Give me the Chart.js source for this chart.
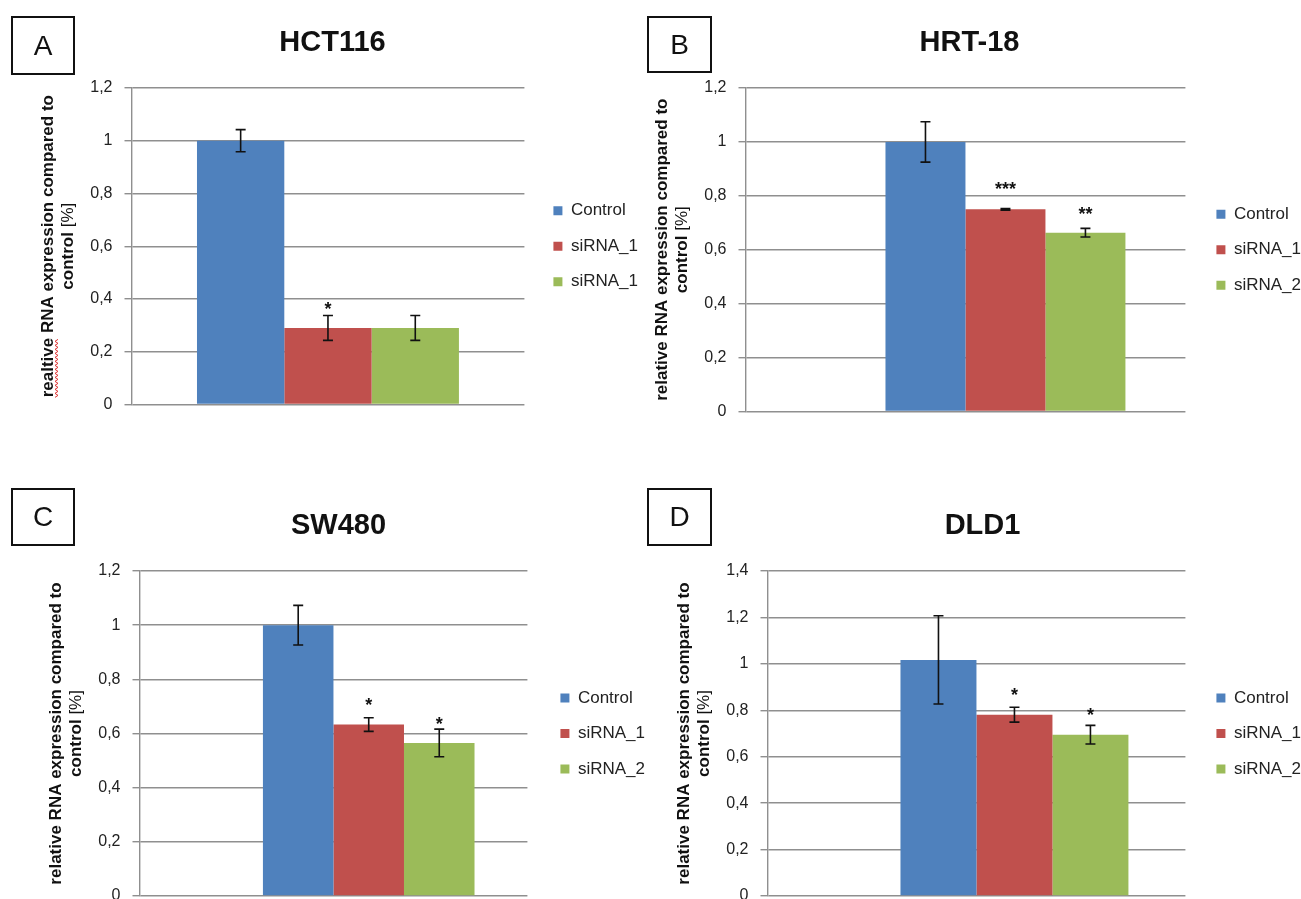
<!DOCTYPE html>
<html>
<head>
<meta charset="utf-8">
<script src="https://cdn.jsdelivr.net/npm/chart.js@4/dist/chart.umd.min.js"></script>
<style>
  html, body { margin: 0; padding: 0; background: #fff; overflow: hidden; width: 1301px; height: 899px; }
  .panel { position: absolute; }
  .letter {
    position: absolute; box-sizing: border-box; border: 2px solid #111;
    display: flex; align-items: center; justify-content: center;
    font: 28px "Liberation Sans", Arial, sans-serif; color: #111;
  }
</style>
</head>
<body>
<div class="panel" style="left:16.5px;top:0;width:631px;height:426px"><canvas id="chartA"></canvas></div>
<div class="panel" style="left:627.5px;top:0;width:683px;height:433px"><canvas id="chartB"></canvas></div>
<div class="panel" style="left:21.5px;top:483px;width:633px;height:435px"><canvas id="chartC"></canvas></div>
<div class="panel" style="left:653.5px;top:483px;width:657px;height:435px"><canvas id="chartD"></canvas></div>
<div class="letter" style="left:11px;top:16px;width:64px;height:59px">A</div>
<div class="letter" style="left:647px;top:16px;width:65px;height:57px">B</div>
<div class="letter" style="left:11px;top:488px;width:64px;height:58px">C</div>
<div class="letter" style="left:647px;top:488px;width:65px;height:58px">D</div>
<script>
const FONT = '"Liberation Sans", Arial, sans-serif';
const colors = ["#4F81BD", "#C0504D", "#9BBB59"];

// one category per chart, three treatments
const seriesHCT = ["Control", "siRNA_1", "siRNA_1"];
const seriesOther = ["Control", "siRNA_1", "siRNA_2"];

const hctMean = [1.0, 0.29, 0.29];
const hctErr = [0.042, 0.047, 0.047];
const hctSig = ["", "*", ""];
const hctSigY = [null, 0.377, null];

const hrtMean = [1.0, 0.75, 0.663];
const hrtErr = [0.075, 0.003, 0.016];
const hrtSig = ["", "***", "**"];
const hrtSigY = [null, 0.842, 0.75];

const swMean = [1.0, 0.633, 0.565];
const swErr = [0.073, 0.025, 0.051];
const swSig = ["", "*", "*"];
const swSigY = [null, 0.72, 0.652];

const dldMean = [1.017, 0.781, 0.695];
const dldErr = [0.19, 0.032, 0.04];
const dldSig = ["", "*", "*"];
const dldSigY = [null, 0.883, 0.797];

const yTitleHCT = ["realtive RNA expression compared to", "control", "[%]"];
const yTitleOther = ["relative RNA expression compared to", "control", "[%]"];

const fmt = v => String(+v.toFixed(1)).replace(".", ",");

// error bars + significance stars
const errorBars = {
  id: "errorBars",
  afterDatasetsDraw(chart) {
    const { ctx, scales: { y } } = chart;
    chart.data.datasets.forEach((ds, i) => {
      if (ds.err == null) return;
      const bar = chart.getDatasetMeta(i).data[0];
      const v = ds.data[0], e = ds.err;
      const top = y.getPixelForValue(v + e), bot = y.getPixelForValue(v - e);
      ctx.save();
      ctx.strokeStyle = "#111";
      ctx.lineWidth = 1.6;
      ctx.beginPath();
      ctx.moveTo(bar.x, top); ctx.lineTo(bar.x, bot);
      ctx.moveTo(bar.x - 5, top); ctx.lineTo(bar.x + 5, top);
      ctx.moveTo(bar.x - 5, bot); ctx.lineTo(bar.x + 5, bot);
      ctx.stroke();
      if (ds.sig) {
        const size = 18;
        ctx.font = `bold ${size}px ${FONT}`;
        ctx.fillStyle = "#111";
        ctx.textAlign = "center";
        ctx.textBaseline = "alphabetic";
        ctx.fillText(ds.sig, bar.x, y.getPixelForValue(ds.sigY) + size * 0.58);
      }
      ctx.restore();
    });
  }
};

// rotated two-line y title, bold with a normal "[%]"
const yTitle = {
  id: "yTitle",
  afterDraw(chart, args, o) {
    const { ctx, chartArea: a } = chart;
    const cy = (a.top + a.bottom) / 2;
    const bold = `bold 17px ${FONT}`, norm = `17px ${FONT}`;
    ctx.save();
    ctx.fillStyle = "#111";
    ctx.textBaseline = "middle";
    // line 1
    ctx.save();
    ctx.translate(a.left - 83, cy);
    ctx.rotate(-Math.PI / 2);
    ctx.font = bold;
    const w1 = ctx.measureText(o.text[0]).width;
    ctx.textAlign = "left";
    ctx.fillText(o.text[0], -w1 / 2, 0);
    if (o.squiggle) {
      const ww = ctx.measureText(o.text[0].split(" ")[0]).width;
      ctx.strokeStyle = "#e03030";
      ctx.lineWidth = 1;
      ctx.beginPath();
      for (let x = 0, k = 0; x <= ww; x += 2, k++) {
        const px = -w1 / 2 + x, py = 8 + (k % 2 ? 1.5 : -1.5);
        if (k === 0) ctx.moveTo(px, py); else ctx.lineTo(px, py);
      }
      ctx.stroke();
    }
    ctx.restore();
    // line 2
    ctx.save();
    ctx.translate(a.left - 63, cy);
    ctx.rotate(-Math.PI / 2);
    ctx.textAlign = "left";
    ctx.font = bold;
    const p1 = o.text[1] + " ";
    const wa = ctx.measureText(p1).width;
    ctx.font = norm;
    const wb = ctx.measureText(o.text[2]).width;
    const x0 = -(wa + wb) / 2;
    ctx.font = bold;
    ctx.fillText(p1, x0, 0);
    ctx.font = norm;
    ctx.fillText(o.text[2], x0 + wa, 0);
    ctx.restore();
    ctx.restore();
  }
};

function makeChart(id, p) {
  const datasets = [];
  for (let i = 0; i < p.lead; i++) datasets.push({ label: "", data: [null] });
  p.names.forEach((n, i) => datasets.push({
    label: n,
    data: [p.mean[i]],
    err: p.err[i],
    sig: p.sig[i],
    sigY: p.sigY[i],
    backgroundColor: colors[i],
    borderWidth: 0,
  }));
  const n = datasets.length;
  return new Chart(document.getElementById(id), {
    type: "bar",
    data: { labels: [""], datasets },
    options: {
      responsive: true,
      maintainAspectRatio: false,
      animation: false,
      datasets: { bar: { categoryPercentage: n / (n + 1.5), barPercentage: 1 } },
      layout: { padding: { top: 0, left: 0, right: 0, bottom: p.bottom } },
      plugins: {
        tooltip: { enabled: false },
        title: {
          display: true, text: p.title, color: "#111",
          font: { family: FONT, size: 29, weight: "bold", lineHeight: 1.2 },
          padding: { top: 25.6, bottom: 27.6 },
        },
        legend: {
          position: "right",
          fullSize: false,
          maxWidth: 200,
          labels: {
            boxWidth: 9, boxHeight: 9, padding: 18.5, color: "#222",
            font: { family: FONT, size: 17 },
            filter: it => it.text !== "",
          },
        },
        yTitle: { text: p.ytitle, squiggle: p.squiggle },
      },
      scales: {
        x: { display: false },
        y: {
          min: 0, max: p.yMax,
          ticks: { stepSize: 0.2, padding: 12, color: "#222", font: { family: FONT, size: 16 }, callback: fmt },
          grid: { color: "#8f8f8f", lineWidth: 1.4, tickLength: 7 },
          border: { color: "#8f8f8f", width: 1.4 },
          afterFit: s => { s.width = p.yW; },
        },
        gap: {
          type: "linear", axis: "y", position: "right", display: true,
          grid: { display: false }, ticks: { display: false }, border: { display: false },
          afterFit: s => { s.width = p.gap; },
        },
      },
    },
    plugins: [errorBars, yTitle],
  });
}

makeChart("chartA", { title: "HCT116", names: seriesHCT, mean: hctMean, err: hctErr, sig: hctSig, sigY: hctSigY,
  ytitle: yTitleHCT, squiggle: true, yMax: 1.2, lead: 0, yW: 114.5, gap: 10.5, bottom: 20 });
makeChart("chartB", { title: "HRT-18", names: seriesOther, mean: hrtMean, err: hrtErr, sig: hrtSig, sigY: hrtSigY,
  ytitle: yTitleOther, yMax: 1.2, lead: 1, yW: 117.5, gap: 12.5, bottom: 20 });
makeChart("chartC", { title: "SW480", names: seriesOther, mean: swMean, err: swErr, sig: swSig, sigY: swSigY,
  ytitle: yTitleOther, yMax: 1.2, lead: 1, yW: 117.5, gap: 14.5, bottom: 22 });
makeChart("chartD", { title: "DLD1", names: seriesOther, mean: dldMean, err: dldErr, sig: dldSig, sigY: dldSigY,
  ytitle: yTitleOther, yMax: 1.4, lead: 1, yW: 113.5, gap: 12.5, bottom: 22 });
</script>
</body>
</html>
